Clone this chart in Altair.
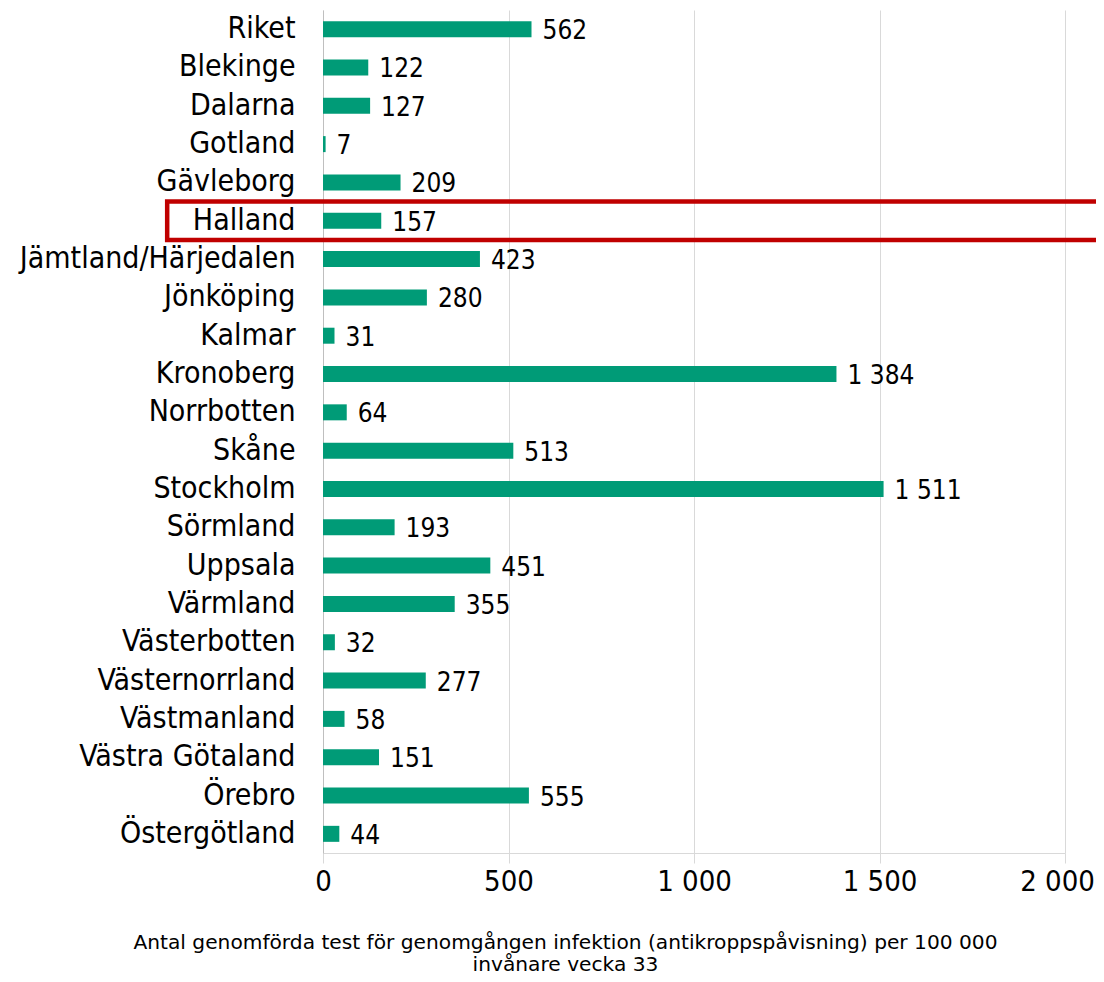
import altair as alt
import pandas as pd

regions = ["Riket", "Blekinge", "Dalarna", "Gotland", "Gävleborg", "Halland",
           "Jämtland/Härjedalen", "Jönköping", "Kalmar", "Kronoberg", "Norrbotten",
           "Skåne", "Stockholm", "Sörmland", "Uppsala", "Värmland", "Västerbotten",
           "Västernorrland", "Västmanland", "Västra Götaland", "Örebro", "Östergötland"]
values = [562, 122, 127, 7, 209, 157, 423, 280, 31, 1384, 64, 513, 1511, 193, 451,
          355, 32, 277, 58, 151, 555, 44]
highlight_region = ["Halland"]
highlight_span = [-420, 2110]
x_ticks = [0, 500, 1000, 1500, 2000]
axis_title = ["Antal genomförda test för genomgången infektion (antikroppspåvisning) per 100 000",
              "invånare vecka 33"]

FONT = "DejaVu Sans Condensed, DejaVu Sans"
TITLE_FONT = "DejaVu Sans"

df = pd.DataFrame({"region": regions, "value": values})
df["label"] = [f"{v:,}".replace(",", " ") for v in values]
hl = pd.DataFrame({"region": highlight_region, "x0": [highlight_span[0]], "x1": [highlight_span[1]]})

yscale = alt.Scale(domain=regions, paddingInner=0, paddingOuter=0)
xscale = alt.Scale(domain=[0, 2000], nice=False)

x_axis = alt.Axis(values=x_ticks,
                  labelExpr="replace(format(datum.value, ',d'), ',', ' ')",
                  labelFontSize=29, labelFont=FONT, labelColor="#000000",
                  labelFlush=False,
                  labelOffset={"condition": {"test": "datum.value == 2000", "value": -8}, "value": 0},
                  labelPadding=4, tickSize=10, tickColor="#d9d9d9",
                  domainColor="#d9d9d9", gridColor="#d9d9d9", grid=True,
                  title=axis_title, titleFont=TITLE_FONT, titleFontSize=20.2,
                  titleFontWeight="normal", titleColor="#000000",
                  titleX=242, titleY=79, titleAnchor="middle", titleAlign="center",
                  titleBaseline="top", titleLineHeight=22)
y_axis = alt.Axis(title=None, labelFontSize=30, labelFont=FONT, labelColor="#000000",
                  labelPadding=28, labelLimit=0, ticks=False, domainColor="#bfbfbf",
                  grid=False)

bars = alt.Chart(df).mark_bar(color="#009b77", size=16).encode(
    y=alt.Y("region:N", scale=yscale, axis=y_axis, sort=regions),
    x=alt.X("value:Q", scale=xscale, axis=x_axis),
)

labels = alt.Chart(df).mark_text(align="left", baseline="middle", dx=11, dy=2,
                                 fontSize=26, font=FONT, color="#000000").encode(
    y=alt.Y("region:N", scale=yscale, sort=regions),
    x=alt.X("value:Q", scale=xscale),
    text="label:N",
)

box = alt.Chart(hl).mark_rect(fill=None, stroke="#c00000", strokeWidth=4.5, clip=False).encode(
    y=alt.Y("region:N", scale=yscale, sort=regions),
    x=alt.X("x0:Q", scale=xscale),
    x2="x1:Q",
)

chart = alt.layer(bars, labels, box).properties(
    width=742, height=843,
    autosize=alt.AutoSizeParams(type="none"),
    padding={"left": 315, "top": 2, "right": 31, "bottom": 121},
    background="white",
).configure_view(stroke=None)

chart.save("out.html", embed_options={"renderer": "svg", "actions": False})
